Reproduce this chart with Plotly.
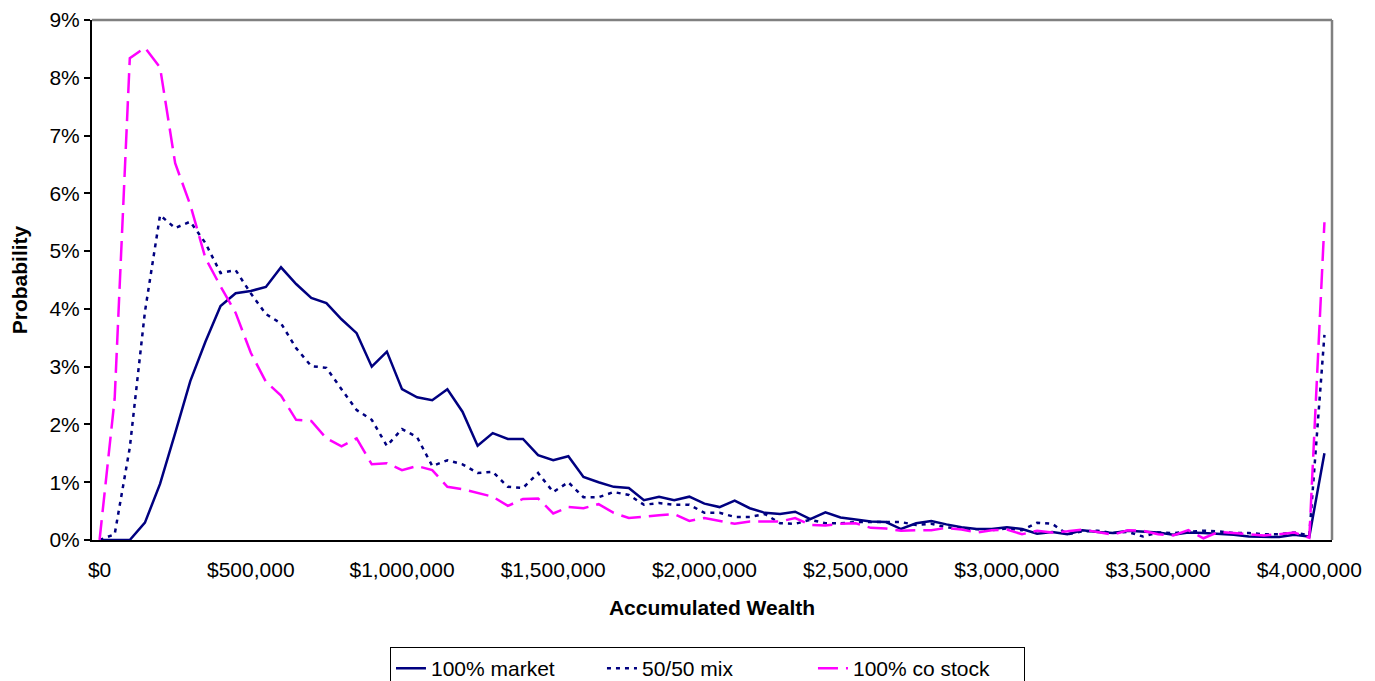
import plotly.graph_objects as go

step = 50000
n_points = 82
wealth = [i * step for i in range(n_points)]

market = [0, 0, 0, 0.30, 0.97, 1.85, 2.75, 3.43, 4.05, 4.27, 4.31, 4.38, 4.72, 4.43, 4.19, 4.10,
          3.82, 3.58, 3.00, 3.26, 2.61, 2.47, 2.42, 2.61, 2.22, 1.63, 1.85, 1.75, 1.75, 1.47,
          1.38, 1.45, 1.09, 1.00, 0.92, 0.90, 0.69, 0.75, 0.69, 0.75, 0.63, 0.57, 0.68, 0.55,
          0.47, 0.45, 0.49, 0.36, 0.48, 0.39, 0.36, 0.32, 0.31, 0.19, 0.29, 0.33, 0.27, 0.22,
          0.19, 0.19, 0.22, 0.19, 0.11, 0.14, 0.10, 0.17, 0.14, 0.12, 0.16, 0.15, 0.13, 0.09,
          0.13, 0.12, 0.11, 0.09, 0.06, 0.05, 0.05, 0.09, 0.06, 1.50]

mix = [0, 0.10, 1.60, 3.95, 5.62, 5.40, 5.51, 5.14, 4.62, 4.67, 4.27, 3.91, 3.75, 3.32, 3.01,
       2.98, 2.61, 2.25, 2.08, 1.63, 1.92, 1.78, 1.28, 1.38, 1.31, 1.16, 1.18, 0.92, 0.90,
       1.16, 0.83, 1.00, 0.74, 0.74, 0.83, 0.78, 0.61, 0.64, 0.61, 0.61, 0.47, 0.47, 0.40,
       0.40, 0.45, 0.29, 0.28, 0.35, 0.29, 0.29, 0.31, 0.31, 0.31, 0.31, 0.26, 0.28, 0.22,
       0.20, 0.18, 0.17, 0.20, 0.17, 0.30, 0.28, 0.10, 0.15, 0.16, 0.12, 0.14, 0.06, 0.13,
       0.12, 0.14, 0.16, 0.15, 0.12, 0.12, 0.10, 0.10, 0.13, 0.08, 3.55]

costock = [0, 2.45, 8.34, 8.52, 8.18, 6.52, 5.80, 4.88, 4.39, 3.93, 3.24, 2.74, 2.50, 2.08,
           2.06, 1.76, 1.62, 1.76, 1.31, 1.33, 1.21, 1.28, 1.21, 0.92, 0.88, 0.81, 0.75, 0.59,
           0.71, 0.72, 0.46, 0.57, 0.55, 0.62, 0.47, 0.38, 0.41, 0.43, 0.45, 0.33, 0.38, 0.33,
           0.28, 0.32, 0.32, 0.32, 0.38, 0.26, 0.25, 0.28, 0.29, 0.21, 0.20, 0.16, 0.17, 0.17,
           0.21, 0.18, 0.13, 0.17, 0.18, 0.10, 0.16, 0.13, 0.15, 0.18, 0.14, 0.09, 0.17, 0.16,
           0.10, 0.08, 0.17, 0.03, 0.14, 0.12, 0.09, 0.08, 0.10, 0.13, 0.04, 5.50]

tick_vals = [0, 500000, 1000000, 1500000, 2000000, 2500000, 3000000, 3500000, 4000000]
tick_text = ["$0", "$500,000", "$1,000,000", "$1,500,000", "$2,000,000",
             "$2,500,000", "$3,000,000", "$3,500,000", "$4,000,000"]
y_ticks = list(range(0, 10))
y_text = [f"{v}%" for v in y_ticks]

series_names = ["100% market", "50/50 mix", "100% co stock"]

fig = go.Figure()
fig.add_trace(go.Scatter(x=wealth, y=market, mode="lines", name=series_names[0],
                         line=dict(color="#000080", width=2.5)))
fig.add_trace(go.Scatter(x=wealth, y=mix, mode="lines", name=series_names[1],
                         line=dict(color="#000080", width=2.5, dash="4px,5px")))
fig.add_trace(go.Scatter(x=wealth, y=costock, mode="lines", name=series_names[2],
                         line=dict(color="#FF00FF", width=2.5, dash="20px,8px")))

font = "Arial, Liberation Sans, sans-serif"
fig.update_layout(
    width=1367, height=673,
    margin=dict(l=84, r=43, t=12, b=141, autoexpand=False),
    paper_bgcolor="white", plot_bgcolor="white",
    font=dict(family=font, size=21, color="black"),
    showlegend=True,
    legend=dict(orientation="h", x=0.2403, y=-0.206, xanchor="left", yanchor="top",
                bordercolor="black", borderwidth=1, font=dict(size=21),
                tracegroupgap=0, entrywidth=166),
    xaxis=dict(range=[-25000, 4075000], tickvals=tick_vals, ticktext=tick_text,
               automargin=False,
               showgrid=False, zeroline=False, showline=True, linecolor="black", linewidth=2,
               ticks="", ticklabelstandoff=10,
               title=dict(text="<b>Accumulated Wealth</b>", font=dict(size=21), standoff=20)),
    yaxis=dict(range=[0, 9], tickvals=y_ticks, ticktext=y_text,
               automargin=False,
               showgrid=False, zeroline=False, showline=True, linecolor="black", linewidth=2,
               ticks="outside", ticklen=6, tickwidth=1.5, tickcolor="black",
               title=dict(text="<b>Probability</b>", font=dict(size=21), standoff=17)),
)
fig.add_shape(type="line", xref="paper", yref="paper", x0=0, x1=1, y0=1, y1=1,
              line=dict(color="#808080", width=2.5))
fig.add_shape(type="line", xref="paper", yref="paper", x0=1, x1=1, y0=0, y1=1,
              line=dict(color="#808080", width=2.5))

fig.write_html("out.html")
